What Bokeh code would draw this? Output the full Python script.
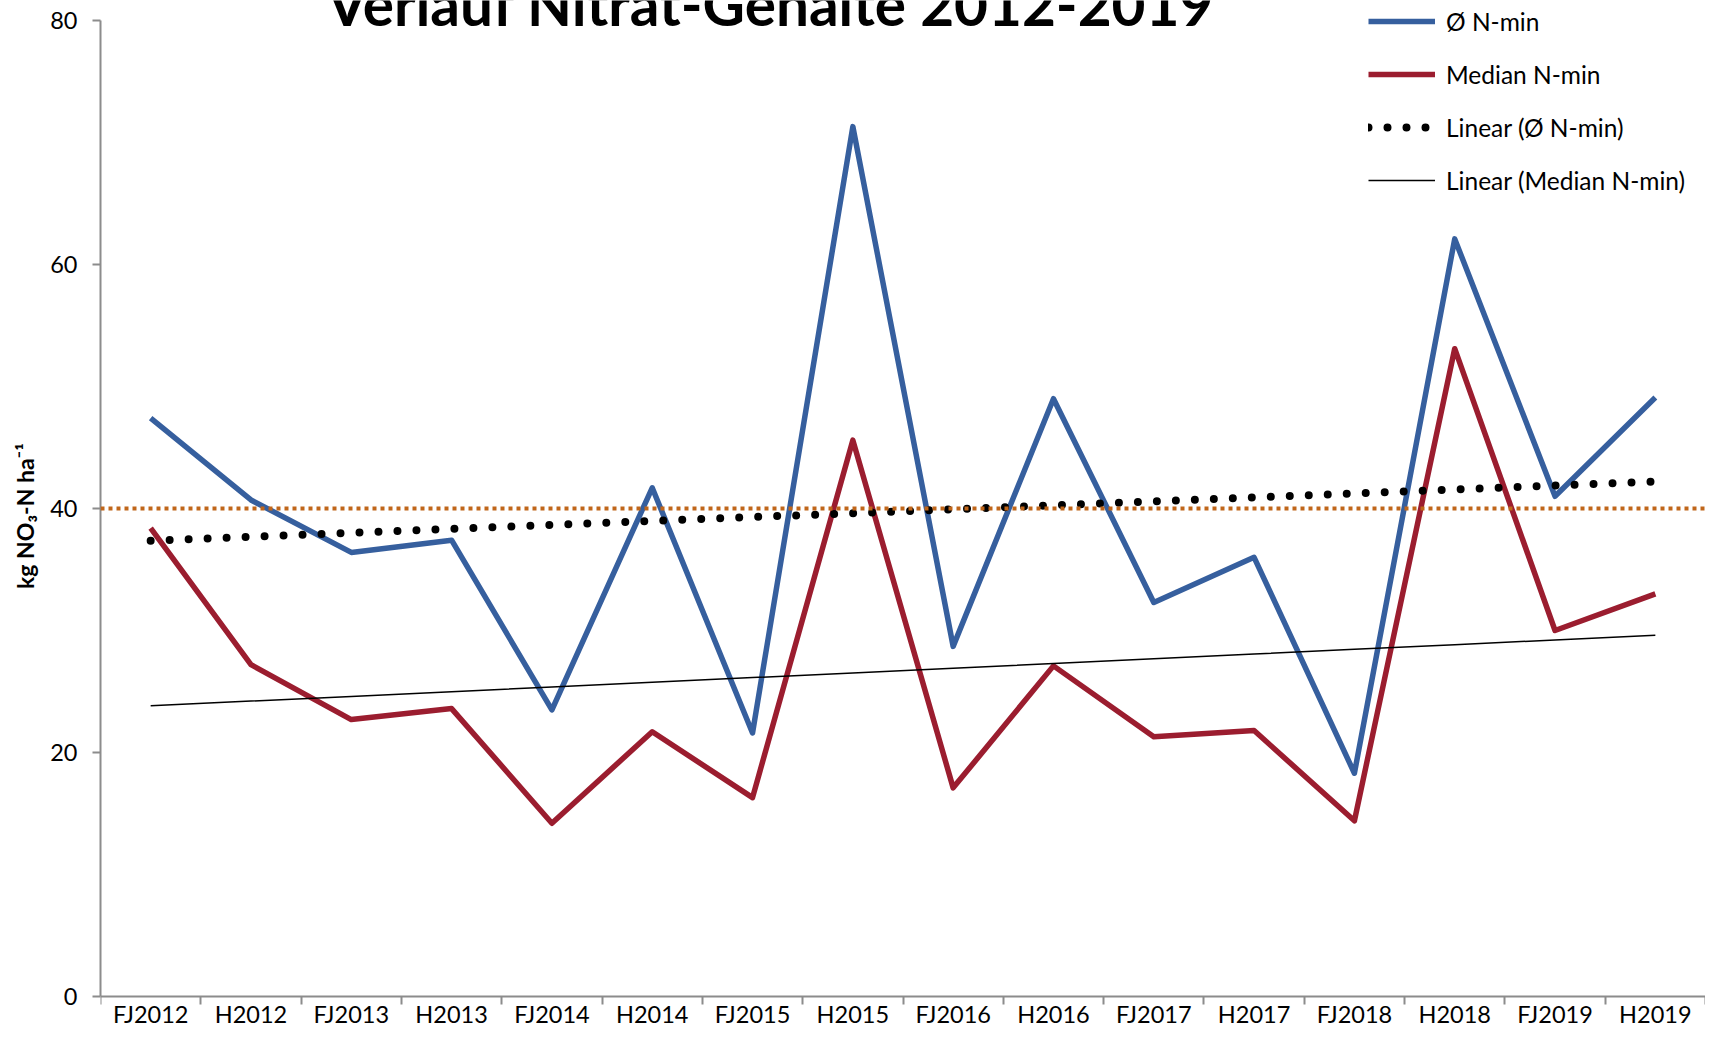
import numpy as np
from bokeh.plotting import figure
from bokeh.models import (Range1d, FixedTicker, Span, Label, Legend, LegendItem)
from bokeh.embed import file_html
from bokeh.resources import INLINE

categories = ["FJ2012", "H2012", "FJ2013", "H2013", "FJ2014", "H2014", "FJ2015", "H2015",
              "FJ2016", "H2016", "FJ2017", "H2017", "FJ2018", "H2018", "FJ2019", "H2019"]
mean_nmin = [47.4, 40.7, 36.4, 37.4, 23.5, 41.7, 21.6, 71.3,
             28.7, 49.0, 32.3, 36.0, 18.3, 62.1, 41.0, 49.1]
median_nmin = [38.4, 27.2, 22.7, 23.6, 14.2, 21.7, 16.3, 45.6,
               17.1, 27.1, 21.3, 21.8, 14.4, 53.1, 30.0, 33.0]
threshold = 40
y_ticks = [0, 20, 40, 60, 80]
title_text = "Verlauf Nitrat-Gehalte 2012-2019"
y_label = "kg NO\u2083-N ha\u207b\u00b9"

FONT = "Lato"
idx = np.arange(len(categories))
xpos = idx + 0.5

# linear trend lines (least squares, as in the original spreadsheet trendlines)
m1, b1 = np.polyfit(idx, mean_nmin, 1)
m2, b2 = np.polyfit(idx, median_nmin, 1)
trend_mean = m1 * idx + b1
trend_median = m2 * idx + b2

p = figure(width=1705, height=1031, output_backend="svg", toolbar_location=None,
           x_range=Range1d(0, len(categories)), y_range=Range1d(-2.87, 81.64),
           min_border_left=100, min_border_right=0, min_border_top=0, min_border_bottom=0)
p.outline_line_color = None
p.xgrid.visible = False
p.ygrid.visible = False
p.background_fill_color = "white"
p.border_fill_color = "white"

AXIS_COLOR = "#8c8c8c"

# x axis at y = 0: labels at category centres, tick marks at category boundaries
xa = p.xaxis[0]
xa.fixed_location = 0
xa.ticker = FixedTicker(ticks=list(xpos), minor_ticks=list(range(len(categories) + 1)))
xa.major_label_overrides = {float(x): c for x, c in zip(xpos, categories)}
xa.major_tick_line_color = None
xa.major_tick_in = 0
xa.major_tick_out = 4
xa.minor_tick_line_color = AXIS_COLOR
xa.minor_tick_line_width = 2
xa.minor_tick_in = 0
xa.minor_tick_out = 8
xa.axis_line_color = AXIS_COLOR
xa.axis_line_width = 2
xa.major_label_text_font = FONT
xa.major_label_text_font_size = "23.5px"
xa.major_label_text_color = "black"
xa.major_label_standoff = -4

ya = p.yaxis[0]
ya.bounds = (0, 80)
ya.ticker = FixedTicker(ticks=y_ticks)
ya.minor_tick_line_color = None
ya.major_tick_line_color = AXIS_COLOR
ya.major_tick_line_width = 2
ya.major_tick_in = 0
ya.major_tick_out = 8
ya.axis_line_color = AXIS_COLOR
ya.axis_line_width = 2
ya.major_label_text_font = FONT
ya.major_label_text_font_size = "23.5px"
ya.major_label_text_color = "black"
ya.major_label_standoff = 15
ya.axis_label = y_label
ya.axis_label_text_font = FONT
ya.axis_label_text_font_size = "23px"
ya.axis_label_text_font_style = "bold"
ya.axis_label_text_color = "black"
ya.axis_label_standoff = 8

# threshold line
p.add_layout(Span(location=threshold, dimension="width", line_color="#C0661A",
                  line_width=4, line_dash="4 4"))

r_mean = p.line(xpos, mean_nmin, line_color="#365F9E", line_width=5.5, line_join="round")
r_median = p.line(xpos, median_nmin, line_color="#9B1D2F", line_width=5.5, line_join="round")
r_tmean = p.line(xpos, trend_mean, line_color="black", line_width=8,
                 line_dash="0 19", line_cap="round")
r_tmedian = p.line(xpos, trend_median, line_color="black", line_width=1.5)

legend = Legend(items=[
    LegendItem(label="\u00d8 N-min", renderers=[r_mean]),
    LegendItem(label="Median N-min", renderers=[r_median]),
    LegendItem(label="Linear (\u00d8 N-min)", renderers=[r_tmean]),
    LegendItem(label="Linear (Median N-min)", renderers=[r_tmedian]),
], location=(1268, 836))
legend.background_fill_alpha = 0
legend.border_line_color = None
legend.padding = 0
legend.margin = 0
legend.spacing = 23
legend.glyph_width = 67
legend.glyph_height = 30
legend.label_height = 30
legend.label_standoff = 11
legend.label_text_font = FONT
legend.label_text_font_size = "24.5px"
legend.label_text_color = "black"
p.add_layout(legend, "center")

p.add_layout(Label(x=6.68, y=81.45, text=title_text, text_align="center",
                   text_baseline="alphabetic", text_font=FONT, text_font_style="bold",
                   text_font_size="58.5px", text_color="black"))

open("out.html", "w").write(file_html(p, INLINE))
